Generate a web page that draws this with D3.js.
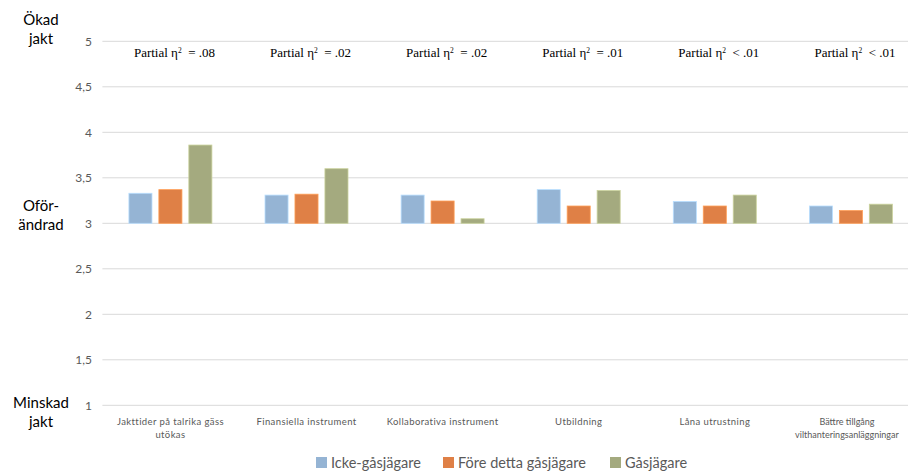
<!DOCTYPE html>
<html>
<head>
<meta charset="utf-8">
<script src="https://cdn.jsdelivr.net/npm/d3@7"></script>
<style>
  body { margin: 0; background: #fff; }
  svg { display: block; }
</style>
</head>
<body>
<div id="chart"></div>
<script>
var categories = [
  ['Jakttider på talrika gäss', 'utökas'],
  ['Finansiella instrument'],
  ['Kollaborativa instrument'],
  ['Utbildning'],
  ['Låna utrustning'],
  ['Bättre tillgång', 'vilthanteringsanläggningar']
];
var series = ['Icke-gåsjägare', 'Före detta gåsjägare', 'Gåsjägare'];
var icke = [3.33, 3.31, 3.31, 3.37, 3.24, 3.19];
var fore = [3.37, 3.32, 3.245, 3.19, 3.19, 3.14];
var gas = [3.86, 3.60, 3.05, 3.36, 3.31, 3.21];
var effects = ['= .08', '= .02', '= .02', '= .01', '< .01', '< .01'];
var yTicks = [1, 1.5, 2, 2.5, 3, 3.5, 4, 4.5, 5];
var colors = ['#95b4d4', '#df8046', '#a4aa7f'];

var width = 908, height = 472;

var svg = d3.select('#chart').append('svg')
  .attr('width', width)
  .attr('height', height);

var y = d3.scaleLinear().domain([1, 5]).range([405.3, 41.3]);
var x0 = d3.scaleBand().domain(d3.range(categories.length)).range([102.4, 919]).padding(0);
var x1 = d3.scaleBand().domain(series).range([26.5, 109.5]).paddingInner(0.23);

// gridlines
svg.append('g').selectAll('line')
  .data(yTicks)
  .enter().append('line')
  .attr('x1', 102.4)
  .attr('x2', width)
  .attr('y1', function (d) { return y(d); })
  .attr('y2', function (d) { return y(d); })
  .attr('stroke', '#d9d9d9')
  .attr('stroke-width', 1);

// y axis labels
var yAxis = d3.axisLeft(y).tickValues(yTicks).tickSize(0).tickPadding(0)
  .tickFormat(function (d) { return String(d).replace('.', ','); });
var ya = svg.append('g').attr('transform', 'translate(92,0)').call(yAxis);
ya.select('.domain').remove();
ya.selectAll('text')
  .attr('fill', '#595959')
  .style('font-family', 'Lato, sans-serif')
  .style('font-size', '12px');

// left side labels
var sideLabels = [
  { lines: ['Ökad', 'jakt'], y: 20 },
  { lines: ['Oför-', 'ändrad'], y: 206 },
  { lines: ['Minskad', 'jakt'], y: 403 }
];
sideLabels.forEach(function (s) {
  var t = svg.append('text')
    .attr('text-anchor', 'middle')
    .attr('fill', '#000')
    .style('font-family', 'Lato, sans-serif')
    .style('font-size', '15px');
  s.lines.forEach(function (l, i) {
    t.append('tspan').attr('x', 41).attr('y', s.y + 5 + i * 19).text(l);
  });
});

// bars
var rows = categories.map(function (c, i) {
  return { i: i, vals: [icke[i], fore[i], gas[i]] };
});
var groups = svg.append('g').selectAll('g')
  .data(rows)
  .enter().append('g')
  .attr('transform', function (d) { return 'translate(' + x0(d.i) + ',0)'; });

groups.selectAll('rect')
  .data(function (d) { return d.vals.map(function (v, j) { return { s: series[j], v: v, j: j }; }); })
  .enter().append('rect')
  .attr('x', function (d) { return x1(d.s); })
  .attr('width', x1.bandwidth())
  .attr('y', function (d) { return y(d.v); })
  .attr('height', function (d) { return y(3) - y(d.v); })
  .attr('fill', function (d) { return colors[d.j]; })
  .attr('stroke', function (d) { return d3.color(colors[d.j]).brighter(0.6); })
  .attr('stroke-width', 0.8);

// partial eta labels
effects.forEach(function (e, i) {
  var t = svg.append('text')
    .attr('x', x0(i) + x0.bandwidth() / 2 + 4)
    .attr('y', 57)
    .attr('text-anchor', 'middle')
    .attr('fill', '#000')
    .style('white-space', 'pre')
    .style('font-family', '"Liberation Serif", serif')
    .style('font-size', '13px');
  t.append('tspan').text('Partial η');
  t.append('tspan').attr('dy', -4).style('font-size', '7.5px').text('2');
  t.append('tspan').attr('dy', 4).text('  ' + e);
});

// category labels
categories.forEach(function (c, i) {
  var last = i === categories.length - 1;
  var t = svg.append('text')
    .attr('text-anchor', 'middle')
    .attr('fill', '#595959')
    .style('font-family', 'Lato, sans-serif')
    .style('font-size', last ? '9px' : '9.5px')
    .style('letter-spacing', last ? '0px' : '0.4px');
  c.forEach(function (l, k) {
    t.append('tspan').attr('x', x0(i) + x0.bandwidth() / 2 - (last ? 4 : 0)).attr('y', 425 + k * 13).text(l);
  });
});

// legend
var legendX = [316, 443, 610];
var legend = svg.append('g').selectAll('g')
  .data(series)
  .enter().append('g')
  .attr('transform', function (d, i) { return 'translate(' + legendX[i] + ',457)'; });
legend.append('rect')
  .attr('width', 11).attr('height', 11)
  .attr('fill', function (d, i) { return colors[i]; });
legend.append('text')
  .attr('x', 15).attr('y', 11)
  .attr('fill', '#595959')
  .style('font-family', 'Lato, sans-serif')
  .style('font-size', '14.5px')
  .text(function (d) { return d; });
</script>
</body>
</html>
